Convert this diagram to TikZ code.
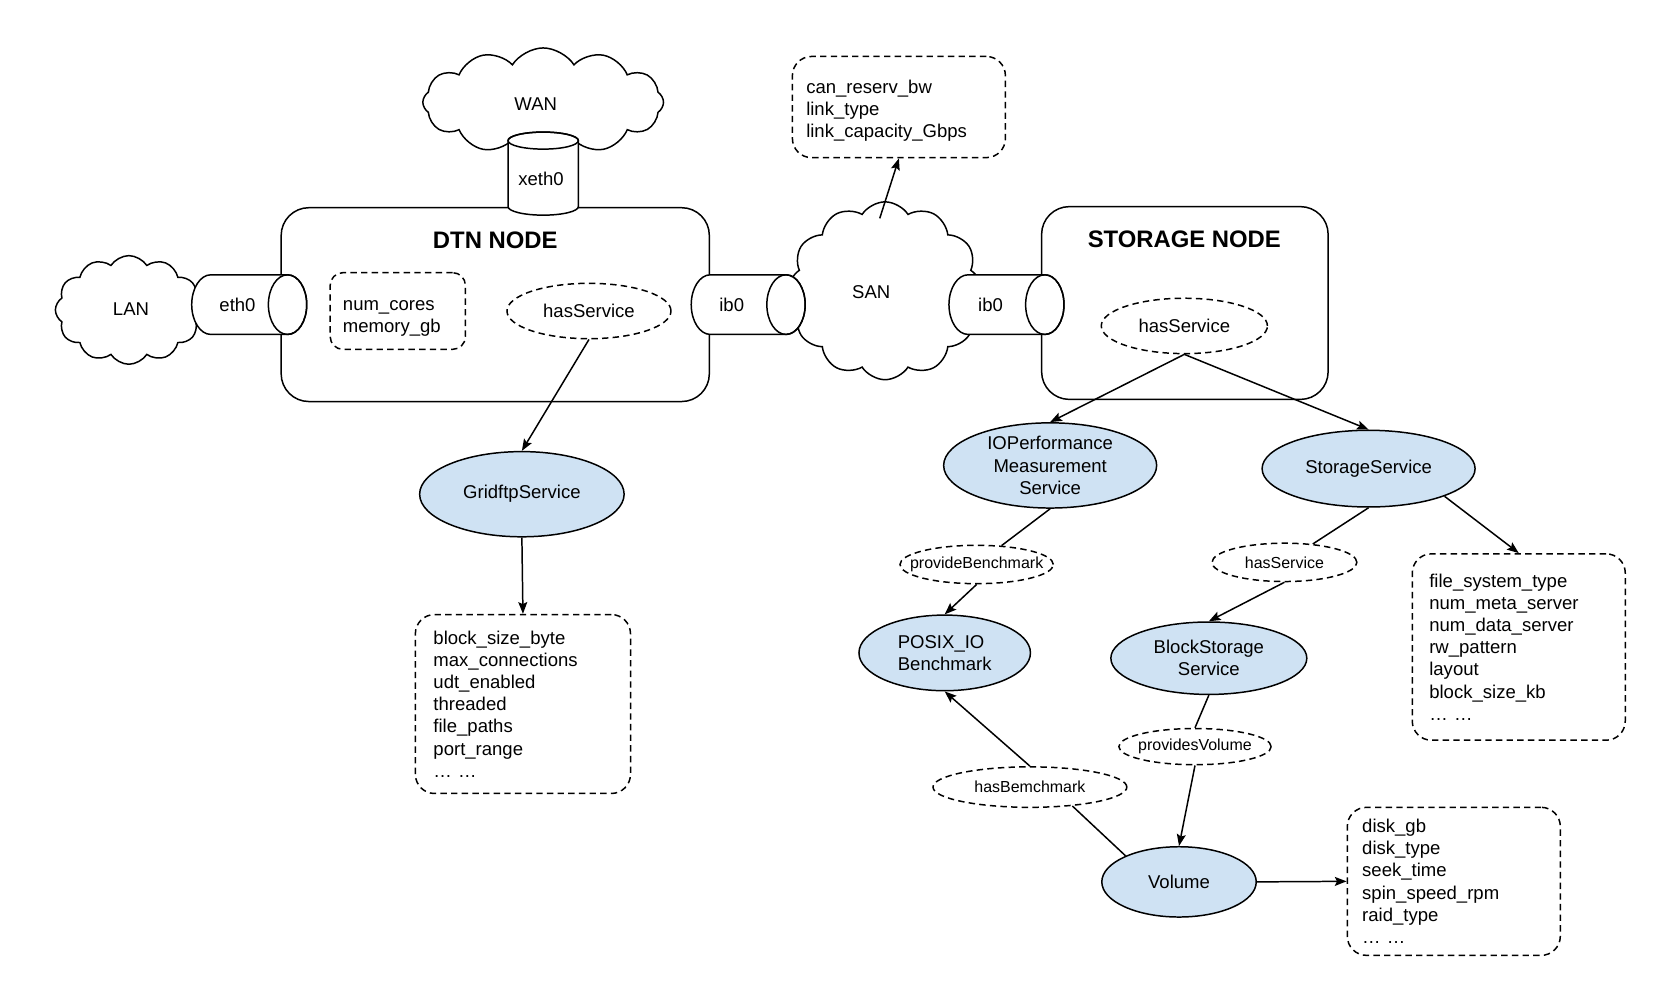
\documentclass[tikz,border=0pt]{standalone}
\usepackage{fontspec}
\setmainfont{Liberation Sans}
\usetikzlibrary{shapes.geometric,shapes.symbols,arrows.meta}
\definecolor{svcblue}{RGB}{207,226,243}
\newcommand\fn{\fontsize{8.7pt}{10.4pt}\selectfont}
\newcommand\fsm{\fontsize{7.5pt}{9pt}\selectfont}
\newcommand\ftl{\fontsize{11.2pt}{13pt}\selectfont\bfseries}
\newcommand\hcyl[3]{%
  \filldraw[fill=white, line width=0.7pt] (#1,#3-28) -- (#2,#3-28)
    arc[start angle=-90,end angle=90,x radius=18,y radius=28] -- (#1,#3+28)
    arc[start angle=90,end angle=270,x radius=18,y radius=28] -- cycle;
  \draw[line width=0.7pt] (#2,#3) ellipse[x radius=18, y radius=28];}
\tikzset{
  cloudnode/.style={cloud, cloud puffs=12, cloud puff arc=115, cloud ignores aspect, draw, line width=0.7pt, font=\fn, inner sep=0pt},
  bigbox/.style={draw, line width=0.7pt, rounded corners=13pt},
  titletext/.style={font=\ftl},
  plain/.style={font=\fn, inner sep=0pt},
  attrbox/.style={draw, line width=0.7pt, dash pattern=on 3pt off 2pt, rounded corners=9pt, align=left, font=\fn, inner ysep=0pt},
  svc/.style={ellipse, draw, fill=svcblue, line width=0.7pt, inner sep=0pt, align=center, font=\fn},
  rel/.style={ellipse, draw, line width=0.7pt, dash pattern=on 3pt off 2pt, inner sep=0pt, font=\fsm},
  conn/.style={line width=0.7pt},
  arr/.style={line width=0.7pt, -{Stealth[length=5.5pt,width=4.2pt,inset=1pt]}}
}
\begin{document}
\begin{tikzpicture}[x=0.5pt,y=-0.5pt]
\useasboundingbox (0,0) rectangle (1568,939);
% clouds
\node[cloudnode, minimum width=113pt, minimum height=51pt] (wan) at (510,96) {};
\node[plain] (wanl) at (503,98) {WAN};
\node[cloudnode, minimum width=69pt, minimum height=51pt] (lan) at (121,291) {};
\node[plain] (lanl) at (123,290) {LAN};
\node[cloudnode, minimum width=91pt, minimum height=83.5pt] (san) at (831,273) {};
\node[plain] (sanl) at (818,274) {SAN};
% big boxes
\node[bigbox, minimum width=201pt, minimum height=91pt] (dtn) at (465,286) {};
\node[titletext] (dtnt) at (465,226) {DTN NODE};
\node[bigbox, minimum width=134.5pt, minimum height=90.5pt] (stor) at (1112.5,284.5) {};
\node[titletext] (stort) at (1112,225) {STORAGE NODE};
% cylinders
\hcyl{198}{270}{286}
\hcyl{667}{738}{286}
\hcyl{909}{981}{286}
\filldraw[fill=white, line width=0.7pt] (477,132) -- (477,194)
  arc[start angle=180, end angle=0, x radius=33, y radius=8] -- (543,132)
  arc[start angle=0, end angle=-180, x radius=33, y radius=8] -- cycle;
\draw[line width=0.7pt] (510,132) ellipse[x radius=33, y radius=8];
\node[plain] (eth0) at (223,286) {eth0};
\node[plain] (ib0a) at (687,286) {ib0};
\node[plain] (ib0b) at (930,286) {ib0};
\node[plain] (xeth0) at (508,168) {xeth0};
% inner nodes
\node[attrbox, minimum width=63.5pt, minimum height=36pt, text width=51.5pt, inner xsep=6pt, rounded corners=6pt] (hw) at (373.5,292) {\rule{0pt}{11.5pt}num\_cores\\memory\_gb};
\node[rel, font=\fn, minimum width=77pt, minimum height=26pt] (hs1) at (553,292) {hasService};
\node[rel, font=\fn, minimum width=78pt, minimum height=26pt] (hs2) at (1112,306) {hasService};
\node[attrbox, minimum width=100pt, minimum height=47.5pt, text width=87pt, inner xsep=6.5pt] (sanattr) at (844,100.5) {\rule{0pt}{10pt}can\_reserv\_bw\\link\_type\\link\_capacity\_Gbps};
\coordinate (sanTop) at (826,205);
% services
\node[svc, minimum width=96pt, minimum height=40pt] (grid) at (490,464) {GridftpService};
\node[attrbox, minimum width=101pt, minimum height=84pt, text width=84pt, inner xsep=8.5pt] (gridattr) at (491,661) {block\_size\_byte\\max\_connections\\udt\_enabled\\threaded\\file\_paths\\port\_range\\… …};
\node[svc, minimum width=100pt, minimum height=40pt] (io) at (986,437) {IOPerformance\\Measurement\\Service};
\node[svc, minimum width=100pt, minimum height=36pt] (ss) at (1285,440) {StorageService};
\node[rel, minimum width=72pt, minimum height=18pt] (prov) at (917,530) {\makebox[0pt]{provideBenchmark}};
\node[svc, align=left, minimum width=80.5pt, minimum height=35.5pt] (posix) at (887,613) {POSIX\_IO\\Benchmark};
\node[rel, minimum width=68pt, minimum height=18pt] (hs3) at (1206,528) {\makebox[0pt]{hasService}};
\node[attrbox, minimum width=100pt, minimum height=87.5pt, text width=84pt, inner xsep=8pt] (ssattr) at (1426,607.5) {file\_system\_type\\num\_meta\_server\\num\_data\_server\\rw\_pattern\\layout\\block\_size\_kb\\… …};
\node[svc, minimum width=92pt, minimum height=34pt] (bs) at (1135,618) {BlockStorage\\Service};
\node[rel, minimum width=71.5pt, minimum height=17pt] (pv) at (1122,701) {\makebox[0pt]{providesVolume}};
\node[svc, minimum width=72.5pt, minimum height=33pt] (vol) at (1107,828) {Volume};
\node[attrbox, minimum width=100pt, minimum height=69.5pt, text width=86pt, inner xsep=7pt] (volattr) at (1365,827.5) {disk\_gb\\disk\_type\\seek\_time\\spin\_speed\_rpm\\raid\_type\\… …};
\node[rel, minimum width=91pt, minimum height=19pt] (hb) at (967,739) {\makebox[0pt]{hasBemchmark}};
% connectors
\draw[arr] (hs1.south) -- (grid.north);
\draw[arr] (grid.south) -- (gridattr.north);
\draw[arr] (sanTop) -- (sanattr.south);
\draw[arr] (hs2.south) -- (io.north);
\draw[arr] (hs2.south) -- (ss.north);
\draw[conn] (io.south) -- (prov);
\draw[arr] (prov.south) -- (posix.north);
\draw[conn] (ss.south) -- (hs3);
\draw[arr] (hs3.south) -- (bs.north);
\draw[arr] (ss.-20) -- (ssattr.north);
\draw[conn] (bs.south) -- (pv.north);
\draw[arr] (pv.south) -- (vol.north);
\draw[arr] (vol.east) -- (volattr.west);
\draw[conn] (vol.154) -- (hb.-24);
\draw[arr] (hb.north) -- (posix.south);
\end{tikzpicture}
\end{document}
